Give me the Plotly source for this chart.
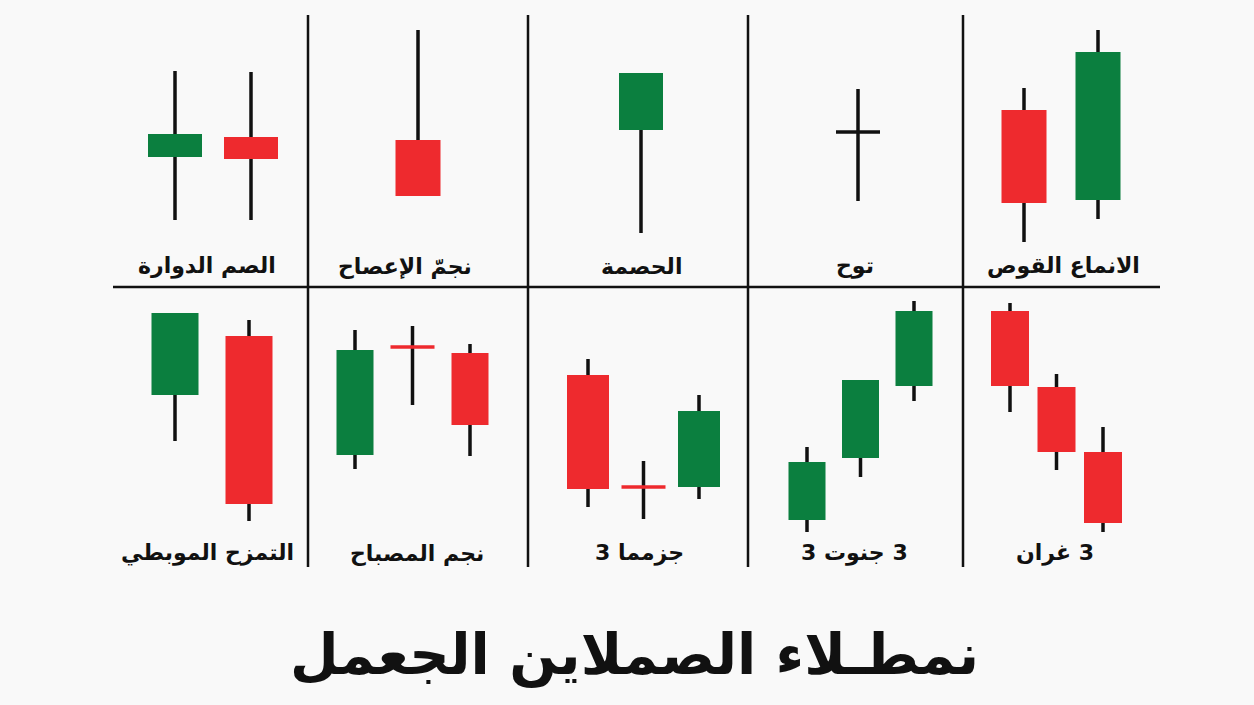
import plotly.graph_objects as go

W, H = 1254, 705
GREEN = '#0b7f3f'
RED = '#ee2a2e'
BLACK = '#111111'

# ---------------- data (price units, per panel, left -> right) ----------------
panel_labels = [
    'الصم الدوارة', 'نجمّ الإعصاح', 'الحصمة', 'توح', 'الانماع القوص',
    'التمزح الموبطي', 'نجم المصباح', '3 جزمما', '3 جنوت \u200e3', 'غران \u200e3',
]
opens = [
    [46.5, 56.5], [55], [60], [59], [70, 25],
    [72.5, 102], [42.5, 96.5, 93.5], [82.5, 26.5, 26.5], [10, 41, 77], [114.5, 76.5, 44],
]
highs = [
    [89.5, 89], [110], [88.5], [80.5], [81, 110],
    [113.5, 110], [105, 107, 98], [90.5, 39.5, 72.5], [46.5, 80, 119.5], [118.5, 83, 56.5],
]
lows = [
    [15, 15], [27], [8.5], [24.5], [4, 15.5],
    [49.5, 9.5], [35.5, 67.5, 42], [16.5, 10.5, 20.5], [4, 31.5, 69.5], [64, 35, 4],
]
closes = [
    [58, 45.5], [27], [88.5], [59], [23.5, 99],
    [113.5, 18], [95, 96.5, 57.5], [25.5, 26.5, 64.5], [39, 80, 114.5], [77, 44, 8.5],
]
# colour kind of each candle: g = bullish, r = bearish, k = neutral doji
kinds = [
    ['g', 'r'], ['r'], ['g'], ['k'], ['r', 'g'],
    ['g', 'r'], ['g', 'r', 'r'], ['r', 'r', 'g'], ['g', 'g', 'g'], ['r', 'r', 'r'],
]
title_text = 'نمطـلاء الصملاين الجعمل'

# ---------------- layout geometry (pixels) ----------------
panel_x = [(113, 308), (308, 528), (528, 748), (748, 963), (963, 1160)] * 2
first_center = [175, 418, 641, 858, 1024, 175, 355, 588, 807, 1010]
spacing = [76, 60, 60, 60, 74, 74, 57.5, 55.5, 53.5, 46.5]
body_px = [54, 45, 44, 45, 45, 47, 37, 42, 37, 38]
doji_px = 44
row_py = [(10, 250, 120), (290, 540, 125)]  # top px, bottom px, price range
label_pos = [(207, 266), (405, 266), (641, 266), (855, 266), (1063, 266),
             (207, 553), (417, 553), (639, 553), (854, 553), (1055, 553)]

colmap = {'g': GREEN, 'r': RED, 'k': BLACK}

fig = go.Figure()
layout = dict(
    width=W, height=H, margin=dict(l=0, r=0, t=0, b=0),
    paper_bgcolor='#f9f9f9', plot_bgcolor='rgba(0,0,0,0)',
    showlegend=False, barmode='overlay',
)

for p in range(10):
    ax = '' if p == 0 else str(p + 1)
    x0, x1 = panel_x[p]
    s = spacing[p]
    lo = 1 - (first_center[p] - x0) / s
    hi = lo + (x1 - x0) / s
    top, bot, rng = row_py[0] if p < 5 else row_py[1]
    layout['xaxis' + ax] = dict(domain=[x0 / W, x1 / W], range=[lo, hi], visible=False,
                                fixedrange=True)
    layout['yaxis' + ax] = dict(domain=[1 - bot / H, 1 - top / H], range=[0, rng],
                                visible=False, fixedrange=True)
    n = len(opens[p])
    xs = list(range(1, n + 1))
    # wicks (upper and lower parts, outside the body)
    wx, wy = [], []
    for i in range(n):
        o, c = opens[p][i], closes[p][i]
        btm, tp = min(o, c), max(o, c)
        if lows[p][i] < btm:
            wx += [xs[i], xs[i], None]
            wy += [lows[p][i], btm, None]
        if highs[p][i] > tp:
            wx += [xs[i], xs[i], None]
            wy += [tp, highs[p][i], None]
    fig.add_trace(go.Scatter(x=wx, y=wy, mode='lines', line=dict(color=BLACK, width=3.5),
                             xaxis='x' + ax, yaxis='y' + ax, hoverinfo='skip'))
    # bodies
    bx, bb, bh, bw, bc = [], [], [], [], []
    for i in range(n):
        o, c = opens[p][i], closes[p][i]
        if o == c:
            hw = doji_px / s / 2
            fig.add_trace(go.Scatter(x=[xs[i] - hw, xs[i] + hw], y=[o, o], mode='lines',
                                     line=dict(color=colmap[kinds[p][i]], width=3.5),
                                     xaxis='x' + ax, yaxis='y' + ax, hoverinfo='skip'))
        else:
            bx.append(xs[i])
            bb.append(min(o, c))
            bh.append(abs(c - o))
            bw.append(body_px[p] / s)
            bc.append(colmap[kinds[p][i]])
    if bx:
        fig.add_trace(go.Bar(x=bx, y=bh, base=bb, width=bw,
                             marker=dict(color=bc, line=dict(width=0)),
                             xaxis='x' + ax, yaxis='y' + ax, hoverinfo='skip'))

# labels
annotations = []
for p in range(10):
    lx, ly = label_pos[p]
    annotations.append(dict(x=lx / W, y=1 - ly / H, xref='paper', yref='paper',
                            text=panel_labels[p], showarrow=False,
                            font=dict(family='DejaVu Sans', size=22, color='#111111',
                                      weight='bold'),
                            xanchor='center', yanchor='middle'))
annotations.append(dict(x=634 / W, y=1 - 655 / H, xref='paper', yref='paper', text=title_text,
                        showarrow=False,
                        font=dict(family='DejaVu Sans', size=56, color='#111111', weight='bold'),
                        xanchor='center', yanchor='middle'))
layout['annotations'] = annotations

# divider lines
shapes = []
for vx in [308, 528, 748, 963]:
    shapes.append(dict(type='line', xref='paper', yref='paper', x0=vx / W, x1=vx / W,
                       y0=1 - 15 / H, y1=1 - 567 / H, line=dict(color=BLACK, width=2.5)))
shapes.append(dict(type='line', xref='paper', yref='paper', x0=113 / W, x1=1160 / W,
                   y0=1 - 287 / H, y1=1 - 287 / H, line=dict(color=BLACK, width=2.5)))
layout['shapes'] = shapes

fig.update_layout(**layout)
fig.write_html('out.html')
